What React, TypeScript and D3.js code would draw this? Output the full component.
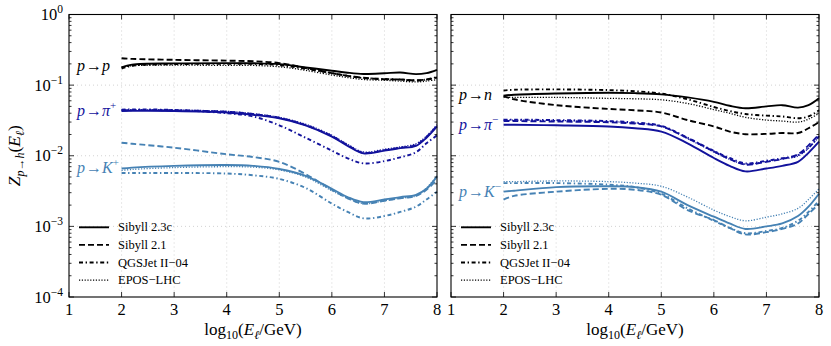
import * as d3 from "d3";
import React from "react";

// energy grid, log10(E/GeV)
const energies = [2, 2.2, 3, 4, 4.5, 5, 5.5, 6, 6.3, 6.6, 7, 7.3, 7.6, 7.8, 8];

const models = ["Sibyll 2.3c", "Sibyll 2.1", "QGSJet II\u221204", "EPOS\u2212LHC"];

// left panel: p -> p, pi+, K+
const ppSib23c = [0.178, 0.195, 0.203, 0.205, 0.204, 0.198, 0.178, 0.16, 0.15, 0.144, 0.147, 0.151, 0.143, 0.148, 0.165];
const ppSib21 = [0.24, 0.235, 0.228, 0.222, 0.218, 0.205, 0.175, 0.148, 0.135, 0.127, 0.121, 0.12, 0.117, 0.12, 0.128];
const ppQgs = [0.172, 0.188, 0.198, 0.2, 0.2, 0.192, 0.17, 0.148, 0.135, 0.126, 0.122, 0.12, 0.116, 0.12, 0.13];
const ppEpos = [0.18, 0.188, 0.192, 0.19, 0.19, 0.182, 0.162, 0.139, 0.128, 0.12, 0.117, 0.114, 0.111, 0.114, 0.12];

const ppipSib23c = [0.043, 0.0432, 0.043, 0.041, 0.038, 0.034, 0.027, 0.0187, 0.0138, 0.0108, 0.0118, 0.0128, 0.0138, 0.018, 0.026];
const ppipSib21 = [0.044, 0.0442, 0.044, 0.042, 0.039, 0.0345, 0.0272, 0.019, 0.0142, 0.011, 0.012, 0.013, 0.0142, 0.0185, 0.0265];
const ppipQgs = [0.045, 0.0452, 0.0445, 0.04, 0.036, 0.027, 0.018, 0.0118, 0.0092, 0.0078, 0.0084, 0.0095, 0.0112, 0.015, 0.0195];
const ppipEpos = [0.0445, 0.0448, 0.0445, 0.0425, 0.0395, 0.035, 0.028, 0.0195, 0.0145, 0.0113, 0.0124, 0.0133, 0.0148, 0.019, 0.0275];

const pKpSib23c = [0.0066, 0.0068, 0.0072, 0.0074, 0.0072, 0.0065, 0.0052, 0.0034, 0.0026, 0.0022, 0.0024, 0.0026, 0.0028, 0.0034, 0.0051];
const pKpSib21 = [0.0153, 0.0148, 0.013, 0.0105, 0.0096, 0.0082, 0.0055, 0.0033, 0.0025, 0.0021, 0.0023, 0.0025, 0.0027, 0.0033, 0.0046];
const pKpQgs = [0.0057, 0.0057, 0.0057, 0.0056, 0.0053, 0.0047, 0.0035, 0.0021, 0.0016, 0.0013, 0.0014, 0.0016, 0.0019, 0.0024, 0.0031];
const pKpEpos = [0.0062, 0.0064, 0.0068, 0.007, 0.0069, 0.0063, 0.005, 0.0032, 0.0025, 0.0021, 0.0023, 0.0025, 0.0027, 0.0035, 0.0052];

// right panel: p -> n, pi-, K-
const pnSib23c = [0.071, 0.073, 0.076, 0.078, 0.077, 0.074, 0.067, 0.058, 0.051, 0.047, 0.05, 0.052, 0.048, 0.052, 0.065];
const pnSib21 = [0.07, 0.063, 0.052, 0.046, 0.044, 0.041, 0.032, 0.026, 0.022, 0.0202, 0.0204, 0.021, 0.021, 0.0245, 0.03];
const pnQgs = [0.084, 0.086, 0.087, 0.085, 0.082, 0.076, 0.063, 0.049, 0.043, 0.039, 0.037, 0.036, 0.034, 0.036, 0.044];
const pnEpos = [0.067, 0.067, 0.067, 0.065, 0.064, 0.062, 0.055, 0.045, 0.04, 0.035, 0.032, 0.031, 0.03, 0.033, 0.04];

const ppimSib23c = [0.0275, 0.0275, 0.027, 0.026, 0.0245, 0.022, 0.015, 0.0093, 0.0072, 0.006, 0.0066, 0.0072, 0.0082, 0.011, 0.0158];
const ppimSib21 = [0.031, 0.031, 0.0305, 0.0298, 0.0285, 0.026, 0.0178, 0.0115, 0.009, 0.0075, 0.0082, 0.009, 0.0105, 0.014, 0.02];
const ppimQgs = [0.0325, 0.0325, 0.032, 0.031, 0.0295, 0.0265, 0.018, 0.0117, 0.0093, 0.0078, 0.0085, 0.0092, 0.0102, 0.013, 0.019];
const ppimEpos = [0.032, 0.032, 0.0315, 0.0305, 0.029, 0.0262, 0.0175, 0.0113, 0.0089, 0.0076, 0.0083, 0.009, 0.0099, 0.0128, 0.0185];

const pKmSib23c = [0.0031, 0.0032, 0.0036, 0.0037, 0.0036, 0.0031, 0.002, 0.00137, 0.0011, 0.00092, 0.001, 0.0011, 0.0014, 0.0019, 0.0029];
const pKmSib21 = [0.0024, 0.0027, 0.0031, 0.0034, 0.0033, 0.0028, 0.0017, 0.00123, 0.00095, 0.00077, 0.00083, 0.00092, 0.0011, 0.0015, 0.0021];
const pKmQgs = [0.0041, 0.0041, 0.0041, 0.0039, 0.0036, 0.0029, 0.0018, 0.0012, 0.00095, 0.0008, 0.00086, 0.00095, 0.0012, 0.0016, 0.0023];
const pKmEpos = [0.0043, 0.0043, 0.0044, 0.0043, 0.0041, 0.0037, 0.0026, 0.0017, 0.00138, 0.0012, 0.00135, 0.0015, 0.0018, 0.0024, 0.0034];

const xTicks = [1, 2, 3, 4, 5, 6, 7, 8];
const yTickExps = [0, -1, -2, -3, -4];

const BLACK = "#000000";
const DARKBLUE = "#12129c";
const STEEL = "#4682b4";

// line styles per model: solid, dashed, dash-dot, dotted
const styles = [
  { dash: null, width: 1.9 },
  { dash: "6,3", width: 1.9 },
  { dash: "4,2.6,1.4,2.6", width: 1.9 },
  { dash: "1.2,1.6", width: 1.3 },
];

const leftGroups = [
  { color: BLACK, series: [ppSib23c, ppSib21, ppQgs, ppEpos], sup: "", target: "p" },
  { color: DARKBLUE, series: [ppipSib23c, ppipSib21, ppipQgs, ppipEpos], sup: "+", target: "\u03c0" },
  { color: STEEL, series: [pKpSib23c, pKpSib21, pKpQgs, pKpEpos], sup: "+", target: "K" },
];
const rightGroups = [
  { color: BLACK, series: [pnSib23c, pnSib21, pnQgs, pnEpos], sup: "", target: "n" },
  { color: DARKBLUE, series: [ppimSib23c, ppimSib21, ppimQgs, ppimEpos], sup: "\u2212", target: "\u03c0" },
  { color: STEEL, series: [pKmSib23c, pKmSib21, pKmQgs, pKmEpos], sup: "\u2212", target: "K" },
];

const W = 831;
const H = 346;
const top = 14.5;
const bottom = 297;
const panelW = 368;
const serif = "'Liberation Serif', 'DejaVu Serif', serif";

// label vertical positions (value on y axis) for process names
const leftLabelVals = [0.185, 0.043, 0.0066];
const rightLabelVals = [0.072, 0.0275, 0.0031];

function Panel({ x0, groups, labelVals, showY }: any) {
  const x = d3.scaleLinear().domain([1, 8]).range([x0, x0 + panelW]);
  const y = d3.scaleLog().domain([1e-4, 1]).range([bottom, top]);
  const line = (vals: number[]) =>
    d3.line<number>()
      .x((_, i) => x(energies[i]))
      .y((v) => y(v))
      .curve(d3.curveCatmullRom.alpha(0.5))(vals);

  const minor: number[] = [];
  for (let e = -4; e < 0; e++) for (let m = 2; m <= 9; m++) minor.push(m * Math.pow(10, e));

  const legendX = x0 + 10;
  const legendY0 = 227.3;
  const legendDy = 17.6;

  return (
    <g>
      {/* grid */}
      <g stroke="#c8c8c8" strokeWidth={0.8} strokeDasharray="1,3">
        {xTicks.slice(1, -1).map((t) => (
          <line key={"gx" + t} x1={x(t)} x2={x(t)} y1={top} y2={bottom} />
        ))}
        {yTickExps.slice(1, -1).map((e) => (
          <line key={"gy" + e} x1={x0} x2={x0 + panelW} y1={y(Math.pow(10, e))} y2={y(Math.pow(10, e))} />
        ))}
      </g>
      {/* curves */}
      {groups.map((g: any, gi: number) => (
        <g key={gi} fill="none" stroke={g.color}>
          {g.series.map((s: number[], si: number) => (
            <path
              key={si}
              d={line(s) || ""}
              strokeWidth={styles[si].width}
              strokeDasharray={styles[si].dash || undefined}
            />
          ))}
        </g>
      ))}
      {/* process labels */}
      {groups.map((g: any, gi: number) => (
        <text
          key={"l" + gi}
          x={x0 + 8}
          y={y(labelVals[gi]) + 5}
          fill={g.color}
          fontFamily={serif}
          fontSize={16}
        >
          <tspan fontStyle="italic">p</tspan>
          <tspan dx={1}>{"\u2192"}</tspan>
          <tspan fontStyle="italic">{g.target}</tspan>
          {g.sup ? (
            <tspan dy={-7} fontSize={11}>{g.sup}</tspan>
          ) : null}
        </text>
      ))}
      {/* legend */}
      {models.map((m, i) => (
        <g key={"lg" + i}>
          <line
            x1={legendX}
            x2={legendX + 30}
            y1={legendY0 + i * legendDy}
            y2={legendY0 + i * legendDy}
            stroke="#000"
            strokeWidth={styles[i].width}
            strokeDasharray={styles[i].dash || undefined}
          />
          <text
            x={legendX + 39}
            y={legendY0 + i * legendDy + 4}
            fontFamily={serif}
            fontSize={12.5}
            fill="#000"
          >
            {m}
          </text>
        </g>
      ))}
      {/* ticks */}
      <g stroke="#000" strokeWidth={0.8}>
        {xTicks.map((t) => (
          <g key={"tx" + t}>
            <line x1={x(t)} x2={x(t)} y1={bottom} y2={bottom - 5} />
            <line x1={x(t)} x2={x(t)} y1={top} y2={top + 5} />
          </g>
        ))}
        {yTickExps.map((e) => (
          <g key={"ty" + e}>
            <line x1={x0} x2={x0 + 5} y1={y(Math.pow(10, e))} y2={y(Math.pow(10, e))} />
            <line x1={x0 + panelW} x2={x0 + panelW - 5} y1={y(Math.pow(10, e))} y2={y(Math.pow(10, e))} />
          </g>
        ))}
        {minor.map((v, i) => (
          <g key={"my" + i}>
            <line x1={x0} x2={x0 + 2.5} y1={y(v)} y2={y(v)} />
            <line x1={x0 + panelW} x2={x0 + panelW - 2.5} y1={y(v)} y2={y(v)} />
          </g>
        ))}
      </g>
      {/* frame */}
      <rect x={x0} y={top} width={panelW} height={bottom - top} fill="none" stroke="#000" strokeWidth={1.1} />
      {/* x tick labels */}
      {xTicks.map((t) => (
        <text key={"xl" + t} x={x(t)} y={315} textAnchor="middle" fontFamily={serif} fontSize={16.5}>
          {t}
        </text>
      ))}
      {/* y tick labels */}
      {showY &&
        yTickExps.map((e) => (
          <text key={"yl" + e} x={x0 - 6} y={y(Math.pow(10, e)) + 5.5} textAnchor="end" fontFamily={serif} fontSize={16.5}>
            10
            <tspan dy={-7} fontSize={11.5}>
              {e === 0 ? "0" : "\u2212" + Math.abs(e)}
            </tspan>
          </text>
        ))}
      {/* x axis title */}
      <text x={x0 + panelW / 2} y={335} textAnchor="middle" fontFamily={serif} fontSize={17}>
        log
        <tspan dy={4} fontSize={12}>10</tspan>
        <tspan dy={-4}>(</tspan>
        <tspan fontStyle="italic">E</tspan>
        <tspan dy={4} fontSize={12} fontStyle="italic">{"\u2113"}</tspan>
        <tspan dy={-4}>/GeV)</tspan>
      </text>
    </g>
  );
}

export default function App() {
  return (
    <div style={{ position: "absolute", left: 0, top: 0 }}>
      <svg width={W} height={H} style={{ display: "block", background: "#fff" }}>
        <Panel x0={69} groups={leftGroups} labelVals={leftLabelVals} showY={true} />
        <Panel x0={451} groups={rightGroups} labelVals={rightLabelVals} showY={false} />
        {/* y axis title */}
        <text
          transform={`translate(20,${(top + bottom) / 2}) rotate(-90)`}
          textAnchor="middle"
          fontFamily={serif}
          fontSize={17.5}
        >
          <tspan fontStyle="italic">Z</tspan>
          <tspan dy={4} fontSize={12} fontStyle="italic">p</tspan>
          <tspan fontSize={12}>{"\u2192"}</tspan>
          <tspan fontSize={12} fontStyle="italic">h</tspan>
          <tspan dy={-4}>(</tspan>
          <tspan fontStyle="italic">E</tspan>
          <tspan dy={4} fontSize={12} fontStyle="italic">{"\u2113"}</tspan>
          <tspan dy={-4}>)</tspan>
        </text>
      </svg>
    </div>
  );
}
